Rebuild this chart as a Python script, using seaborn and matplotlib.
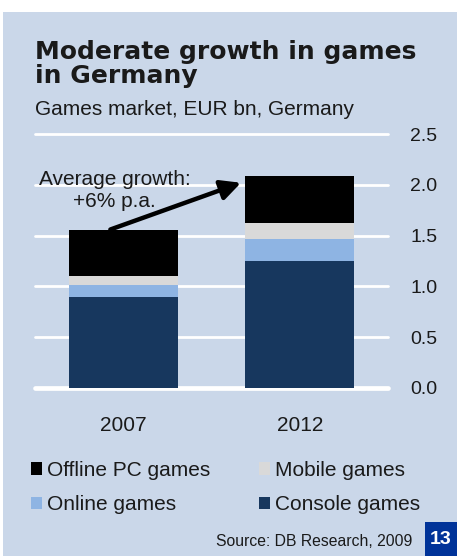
import matplotlib
matplotlib.use("Agg")
import matplotlib.pyplot as plt
import seaborn as sns
import pandas as pd
import numpy as np
from matplotlib.patches import Patch, Rectangle

# data (EUR bn)
years = ["2007", "2012"]
console = [0.90, 1.25]
online = [0.11, 0.22]
mobile = [0.09, 0.15]
offline_pc = [0.46, 0.47]
y_ticks = [0.0, 0.5, 1.0, 1.5, 2.0, 2.5]

BG = "#cad7e9"
NAVY = "#17375e"
LIGHT_BLUE = "#8eb4e3"
GREY = "#d9d9d9"
BLACK = "#000000"
TEXT = "#1a1a1a"

sns.set_theme(style="white")
plt.rcParams['font.family'] = ['Liberation Sans', 'DejaVu Sans']

W, H = 457, 556
fig = plt.figure(figsize=(W / 100, H / 100), dpi=100)
fig.patch.set_facecolor("white")

# panel background
fig.patches.append(Rectangle((3 / W, 0), 1 - 3 / W, 1 - 12 / H, transform=fig.transFigure,
                             facecolor=BG, edgecolor="none", zorder=-2))

ax = fig.add_axes([35 / W, (H - 388) / H, 353 / W, 254 / H])
ax.set_facecolor("none")

df = pd.DataFrame({"year": years, "console": console, "online": online,
                   "mobile": mobile, "offline": offline_pc})
df["c1"] = df["console"]
df["c2"] = df["c1"] + df["online"]
df["c3"] = df["c2"] + df["mobile"]
df["c4"] = df["c3"] + df["offline"]

# stacked bars drawn as overlaid cumulative totals
for col, color in [("c4", BLACK), ("c3", GREY), ("c2", LIGHT_BLUE), ("c1", NAVY)]:
    sns.barplot(data=df, x="year", y=col, color=color, width=0.62, ax=ax,
                saturation=1, edgecolor="none", linewidth=0, zorder=3)

# white gridlines
for t in y_ticks:
    ax.axhline(t, color="white", lw=3.4 if t == 0 else 2.0, zorder=1, clip_on=False)

ax.set_xlim(-0.5, 1.5)
ax.set_ylim(0, 2.5)
ax.set_yticks(y_ticks)
ax.set_yticklabels([f"{t:.1f}" for t in y_ticks])
ax.yaxis.tick_right()
ax.tick_params(axis="y", length=0, pad=16, labelsize=14, labelcolor=TEXT)
ax.tick_params(axis="x", length=0, pad=20, labelsize=15, labelcolor=TEXT)
ax.set_xlabel("")
ax.set_ylabel("")
for s in ax.spines.values():
    s.set_visible(False)

# growth arrow and note
ax.annotate("", xy=(0.667, 2.02), xytext=(-0.073, df["c4"][0]),
            arrowprops=dict(arrowstyle="-|>,head_length=1.0,head_width=0.5",
                            color="black", lw=3.2, shrinkA=0, shrinkB=0), zorder=5)
ax.text(-0.05, 1.78, "Average growth:\n+6% p.a.", ha="center", va="baseline",
        multialignment="center", fontsize=15, color=TEXT, linespacing=1.2, zorder=6)

# titles
fig.text(35 / W, 1 - 59 / H, "Moderate growth in games", fontsize=18,
         fontweight="heavy", family="DejaVu Sans", color=TEXT, va="baseline")
fig.text(35 / W, 1 - 83 / H, "in Germany", fontsize=18,
         fontweight="heavy", family="DejaVu Sans", color=TEXT, va="baseline")
fig.text(35 / W, 1 - 115 / H, "Games market, EUR bn, Germany", fontsize=15,
         color=TEXT, va="baseline")

# legend
handles = [Patch(facecolor=BLACK, edgecolor="none", label="Offline PC games"),
           Patch(facecolor=LIGHT_BLUE, edgecolor="none", label="Online games"),
           Patch(facecolor=GREY, edgecolor="none", label="Mobile games"),
           Patch(facecolor=NAVY, edgecolor="none", label="Console games")]
fig.legend(handles=handles, ncol=2, loc="upper left",
           bbox_to_anchor=(12 / W, 1 - 442 / H), frameon=False, fontsize=15,
           handlelength=0.55, handleheight=0.55, handletextpad=0.25,
           columnspacing=2.3, labelspacing=0.75, labelcolor=TEXT)

# source and page number
fig.text(412 / W, 1 - 546 / H, "Source: DB Research, 2009", fontsize=11.3,
         color=TEXT, ha="right", va="baseline")
fig.patches.append(Rectangle((425 / W, 0), 32 / W, 34 / H, transform=fig.transFigure,
                             facecolor="#003399", edgecolor="none", zorder=-1))
fig.text(441 / W, 17 / H, "13", fontsize=14, fontweight="bold", color="white",
         ha="center", va="center")

fig.savefig("out.png", dpi=100)
